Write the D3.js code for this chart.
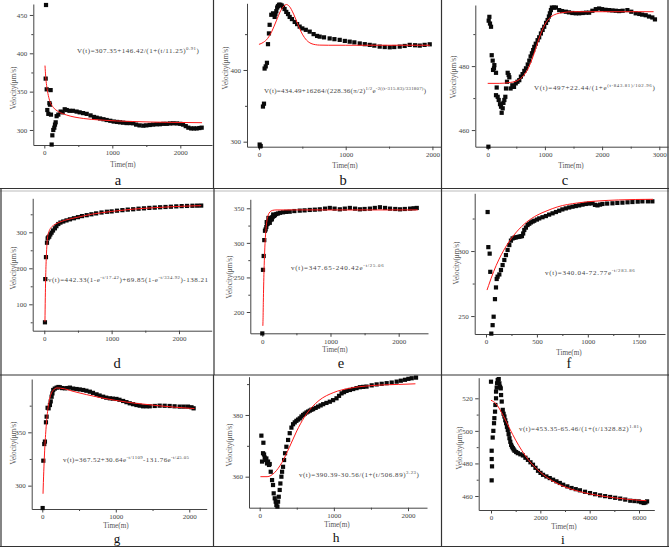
<!DOCTYPE html>
<html><head><meta charset="utf-8">
<script src="https://cdn.jsdelivr.net/npm/d3@7"></script>
<style>
html,body{margin:0;padding:0;background:#fff;}
svg{display:block;}
.tick text{font-family:"Liberation Serif","DejaVu Serif",serif;font-size:7px;fill:#444;}
.tick line{stroke:#444;}
.domain{stroke:#444;}
.ttl{font-family:"Liberation Serif","DejaVu Serif",serif;font-size:7.2px;fill:#555;}
.eq{font-family:"Liberation Serif","DejaVu Serif",serif;font-size:7px;fill:#444;}
.lab{font-family:"Liberation Serif","DejaVu Serif",serif;font-size:14.5px;fill:#111;}
</style>
</head><body>
<svg id="chart" width="669" height="548"></svg>
<script>
// ---------------- DATA ----------------
// panel a
const aPts = [[25,463],[20,367],[35,353],[93,352],[44,326],[59,321],[83,333],[75,335],[98,320],[108,281],[118,293],[132,300],[147,303],[157,307],[167,310],[181,318],[206,320],[240,324],[270,323],[300,327],[330,326],[370,325],[420,325],[475,324],[520,323],[570,322],[623,321],[680,319],[730,317],[770,316],[820,315],[870,314],[917,313],[970,312],[1020,311],[1070,310.5],[1113,310],[1160,309.5],[1210,309],[1260,309],[1309,308.7],[1350,307],[1400,306],[1456,305.6],[1500,306],[1550,306.5],[1600,307],[1652,307.4],[1700,307.5],[1750,308],[1800,308],[1850,308.5],[1897,308.7],[1950,308.5],[2000,308],[2040,307],[2080,305],[2118,303],[2160,302],[2200,302],[2240,302],[2280,302.5],[2314,303]];
const aFit = [[10,384],[20,370],[34,358],[59,345],[83,337],[132,329.5],[206,324],[328,319.5],[574,315],[819,313],[1309,311],[1800,310],[2320,309.5]];
// panel b
const bPts = [[8,296],[19,294],[14,293.5],[46,349],[58,353],[65,402],[78,405],[92,410],[104,436],[115,451],[123,463],[142,477],[162,479],[181,474],[190,478],[200,482],[210,487],[219,489],[231,491],[246,491],[262,490],[277,488],[295,485],[315,481],[335,478],[354,474],[380,471],[412,467],[440,464],[469,460.5],[500,458],[540,456],[585,453.5],[630,450],[670,447.5],[700,446.5],[750,445.5],[815,444],[870,443],[931,442],[990,440.5],[1046,439.5],[1100,438.5],[1162,437],[1220,436],[1277,435],[1330,434],[1392,432.6],[1450,432],[1508,431.6],[1560,432],[1623,432.6],[1680,433.5],[1738,435],[1800,434.5],[1854,434],[1910,435],[1969,435.8]];
const bFit = [[0,435.7],[50,438.5],[100,444],[150,454.3],[200,468.5],[250,482.6],[300,490.5],[316,491.3],[350,488.8],[400,477.8],[450,463],[500,450],[550,441.4],[600,437],[650,435.3],[700,434.7],[800,434.5],[1000,434.5],[1500,434.5],[1970,434.5]];
// panel c
const cPts = [[12,454.8],[17,494.2],[29,495.4],[40,493.3],[58,492.3],[70,483.4],[87,481.7],[93,478.8],[110,479.3],[116,480.3],[145,477.9],[157,473.3],[145,470.9],[174,470.4],[192,469.4],[215,468.1],[233,467.3],[244,465.4],[262,466.8],[275,468.5],[291,469.4],[308,470.4],[320,473],[337,475.1],[349,477.9],[366,477.2],[378,476.5],[400,473],[430,474],[460,473.5],[490,474.6],[520,475.1],[552,475.6],[580,476.7],[610,477.5],[640,478.5],[669,479.3],[700,480.5],[727,481.7],[750,483],[773,484],[795,485],[814,486],[840,487],[872,488.1],[900,489],[930,490.2],[960,491.3],[988,492.3],[1020,493.5],[1047,494.4],[1070,495.5],[1087,496.5],[1105,497.5],[1122,498.3],[1160,498.3],[1192,498.3],[1250,497.5],[1300,497.2],[1366,497],[1420,496.8],[1480,496.6],[1540,496.5],[1599,496.5],[1660,496.6],[1720,496.7],[1773,496.7],[1830,497.3],[1890,497.8],[1948,498],[2000,497.8],[2060,497.6],[2122,497.5],[2180,497.4],[2240,497.3],[2297,497.2],[2360,497.3],[2442,497.5],[2510,497],[2587,496.5],[2650,496.3],[2700,496.1],[2762,495.9],[2820,495.5],[2878,495.2],[2924,494.6]];
const cFit = [[0,474.6],[200,474.6],[400,474.9],[500,475.3],[600,476.5],[700,479],[800,483.4],[850,486.1],[900,488.8],[1000,493],[1100,495.3],[1200,496.3],[1300,496.7],[1500,497],[2000,497],[2900,497]];
// panel d
const dPts = [[10,50],[15,170],[25,231],[40,271],[50,283],[60,286],[74,288],[90,294],[109,299],[130,305],[158,311],[180,317],[208,323],[240,327],[282,330],[330,333],[381,336],[440,339],[500,342],[560,345],[630,347.5],[700,350],[770,352.5],[850,355],[930,357],[1000,358],[1080,360],[1160,361.5],[1240,363],[1320,364],[1400,365.5],[1480,366.5],[1560,367.7],[1640,368.5],[1720,369.5],[1800,370.3],[1880,371],[1960,372],[2040,372.7],[2120,373.2],[2200,373.7],[2270,374],[2330,374.2]];
const dFit = [[10,52],[15,118],[20,168],[30,231],[40,267],[50,288],[75,305],[100,313],[150,321],[200,326],[300,333],[400,338],[500,342],[700,350],[1000,358],[1300,364],[1600,368],[1900,371],[2100,372.7],[2330,374]];
// panel e
const ePts = [[0,169],[10,261],[20,281],[29,304],[39,317.5],[49,319.5],[59,323],[65,330],[70,327],[83,328],[90,336],[95,331],[108,334],[110,329],[120,333],[132,336],[140,334],[145,337],[157,338],[160,341],[170,339],[185,340],[206,341.7],[230,342.5],[260,343.5],[304,344.2],[350,344.8],[402,345.1],[470,346],[549,346.6],[620,347],[696,347.6],[770,348],[843,348.5],[920,349.5],[990,350.5],[1060,349.5],[1137,348.5],[1210,349.5],[1284,350.5],[1360,349.5],[1431,348.5],[1500,349],[1578,349.5],[1650,350.5],[1725,351.5],[1800,350.5],[1873,349.5],[1950,349],[2020,348.5],[2090,349],[2167,349.5],[2220,350],[2265,350.5]];
const eFit = [[8,180],[10,186],[15,214],[20,239],[25,259],[30,275],[40,299],[50,315],[60,326],[75,335.6],[100,343.2],[150,347],[200,347.6],[500,347.65],[1000,347.65],[2280,347.65]];
// panel f
const fPts = [[16,330],[23,303],[36,298],[42,284],[52,236.5],[65,243],[75,249.5],[88,263],[98,272],[105,278.5],[114,280.3],[131,282],[147,285.4],[163,289.2],[180,293.1],[196,296.9],[212,300.8],[229,304.6],[245,308],[261,309.7],[278,310.2],[294,310.5],[310,310.8],[327,311],[340,311.3],[353,311.5],[365,313.5],[376,316.2],[392,318],[408,320],[425,321],[441,322],[458,322.7],[474,323.3],[500,324.2],[523,325.1],[555,326],[588,326.9],[620,328],[654,329],[687,330],[719,331],[750,332],[784,332.8],[817,333.5],[850,334.1],[882,334.6],[915,335.1],[948,335.7],[980,336.2],[1013,336.5],[1046,336.7],[1070,335.5],[1095,335.1],[1120,335.7],[1144,336.2],[1190,336.5],[1242,336.7],[1290,337],[1340,337.2],[1390,337.5],[1438,337.7],[1490,338],[1536,338.2],[1590,338.2],[1634,338.2]];
const fFit = [[10,270],[25,273.4],[50,279],[100,288.9],[150,297.1],[200,304],[300,314.7],[400,322.3],[500,327.5],[600,331],[700,333.9],[900,337],[1100,338.5],[1300,339.3],[1640,339.8]];
// panel g
const gPts = [[5,279],[14,323.4],[27,339],[36,341.3],[50,359.4],[59,364.7],[72,373],[86,372.5],[104,375.6],[115,379],[127,383.4],[138,386.5],[149,389.7],[170,391],[195,391.9],[220,392.5],[240,392.2],[270,391.5],[308,391.3],[340,391.5],[376,391.9],[420,391],[466,390.6],[510,390.2],[557,389.7],[600,389],[647,388.1],[690,387],[738,385.6],[780,384.5],[828,383.4],[870,382.5],[919,381.9],[960,381.6],[1009,381.3],[1050,380.5],[1100,379.4],[1145,378.3],[1190,377.2],[1235,376.4],[1281,375.6],[1325,375],[1371,374.4],[1420,374.4],[1462,374.4],[1530,374.7],[1597,375],[1665,374.9],[1733,374.7],[1800,374.4],[1869,374.1],[1925,374.1],[1982,374.1],[2030,373.5],[2059,372.5]];
const gFit = [[10,292.4],[20,313],[30,329.7],[50,352.8],[75,371.2],[100,381.2],[150,389.6],[200,391.6],[300,390.8],[400,388.8],[600,385.4],[800,382.4],[1000,379.9],[1300,377],[1600,374.8],[2000,372.6],[2070,372.3]];
// panel h
const hPts = [[23,373.3],[32,364.9],[45,367.6],[50,371],[59,367.2],[68,366.2],[77,365.4],[90,365.9],[99,364.3],[113,364.9],[126,363.8],[135,364.1],[149,361.6],[167,358.9],[180,357.3],[189,354.6],[203,353],[216,351.9],[225,350.8],[239,350.3],[248,351.9],[257,353.5],[270,355.7],[279,357.8],[293,360],[302,361.6],[315,363.2],[329,365.4],[342,367.6],[360,369.7],[383,371.9],[405,374.1],[428,375.9],[450,377],[473,377.6],[495,378.1],[518,378.5],[541,378.9],[563,379.5],[586,380],[608,380.4],[631,380.8],[653,381.1],[676,381.4],[698,381.7],[721,381.9],[755,382.3],[788,382.7],[822,383.1],[856,383.5],[900,383.9],[946,384.3],[990,384.8],[1036,385.4],[1070,386.2],[1104,387],[1137,387.4],[1171,387.8],[1216,388.1],[1261,388.4],[1306,388.7],[1351,389],[1396,389.1],[1441,389.2],[1510,389.6],[1577,389.9],[1645,390.1],[1712,390.3],[1780,390.5],[1847,390.8],[1903,391.1],[1959,391.4],[2005,391.7],[2050,391.9],[2108,392.1]];
const hFit = [[10,360],[100,360],[200,361.3],[300,364.6],[400,369.5],[500,374.8],[600,379.2],[700,382.4],[800,384.7],[1000,387.3],[1200,388.6],[1500,389.5],[2000,390],[2100,390.1]];
// panel i
const iPts = [[0,530.2],[27,487.8],[27,482.7],[41,478.2],[27,469.6],[68,495.9],[95,500],[122,504.7],[136,507.8],[163,511.8],[177,515.9],[204,520],[204,524.1],[231,526.5],[245,529.2],[272,531.2],[313,531.8],[340,529.2],[367,527.1],[395,526.1],[408,522],[435,518],[476,512.9],[510,510.5],[544,508.8],[578,506.5],[612,504.7],[646,502.5],[680,500.6],[714,498],[748,495.5],[782,493.3],[816,491.4],[850,490.3],[884,489.4],[918,488.6],[952,487.8],[1020,487],[1088,486.3],[1190,485.6],[1293,484.9],[1395,483.5],[1497,482.2],[1600,480.7],[1701,479.2],[1803,477.3],[1905,475.5],[2007,474.2],[2109,473],[2245,472],[2381,471],[2517,470],[2653,469],[2789,468],[2925,466.9],[3095,465.9],[3265,464.9],[3435,464.2],[3605,463.5],[3810,462.6],[4014,461.8],[4218,461.1],[4422,460.4],[4626,459.9],[4830,459.4],[5034,458.9],[5238,458.4],[5442,457.8],[5646,457.1],[5816,456.9],[5986,456.7],[6088,456.2],[6190,455.7],[6260,456],[6327,456.7]];
const iFit = [[0,518.8],[200,516.7],[500,509.2],[750,501.6],[1000,494.3],[1500,482.5],[2000,474.6],[2500,469.2],[3000,465.6],[3500,463.1],[4000,461.3],[5000,458.9],[6000,457.4],[6300,457.1]];

// tick values
const aXTicks=[0,1000,2000], aXMinor=[500,1500], aYTicks=[300,350,400,450], aYMinor=[325,375,425];
const bXTicks=[0,1000,2000], bXMinor=[500,1500], bYTicks=[300,400], bYMinor=[350,450];
const cXTicks=[0,1000,2000,3000], cXMinor=[500,1500,2500], cYTicks=[460,480], cYMinor=[470,490];
const dXTicks=[0,1000,2000], dXMinor=[500,1500], dYTicks=[100,200,300], dYMinor=[50,150,250,350];
const eXTicks=[0,1000,2000], eXMinor=[500,1500], eYTicks=[200,250,300,350], eYMinor=[225,275,325];
const fXTicks=[0,500,1000,1500], fXMinor=[250,750,1250], fYTicks=[250,300], fYMinor=[275,325];
const gXTicks=[0,1000,2000], gXMinor=[500,1500], gYTicks=[300,350], gYMinor=[325,375];
const hXTicks=[0,1000,2000], hXMinor=[500,1500], hYTicks=[360,380], hYMinor=[370,390];
const iXTicks=[0,2000,4000,6000], iXMinor=[1000,3000,5000], iYTicks=[460,480,500,520], iYMinor=[470,490,510];

// axis limits
const aXDom=[-162,2466], aYDom=[280.4,464.3];
const bXDom=[-138,2099], bYDom=[293,493];
const cXDom=[-217,3152], cYDom=[454.8,499.1];
const dXDom=[-172,2486], dYDom=[26.7,394.4];
const eXDom=[-176,2430], eYDom=[169.2,363];
const fXDom=[-111,1758], fYDom=[236.2,344.4];
const gXDom=[-144,2237], gYDom=[278.1,400];
const hXDom=[-144,2256], hYDom=[349.95,392.4];
const iXDom=[-499,6620], iYDom=[451.4,532.65];

// texts
const panelLabels=["a","b","c","d","e","f","g","h","i"];
const xTitle="Time(m)", yTitle="Velocity(μm/s)";
const aEq=[["V(t)=307.35+146.42/(1+(t/11.25)",0],["0.91",1],[")",0]];
const bEq=[["V(t)=434.49+16264/(228.36(π/2)",0],["1/2",1],["e",0],["-2((t-315.83)/331807)",1],[")",0]];
const cEq=[["V(t)=497+22.44/(1+e",0],["(t-843.81)/102.96",1],[")",0]];
const dEq=[["v(t)=442.33(1-e",0],["-t/17.42",1],[")+69.85(1-e",0],["-t/334.92",1],[")-138.21",0]];
const eEq=[["v(t)=347.65-240.42e",0],["-t/25.06",1]];
const fEq=[["v(t)=340.04-72.77e",0],["-t/283.86",1]];
const gEq=[["v(t)=367.52+30.64e",0],["-t/1109",1],["-131.76e",0],["-t/45.05",1]];
const hEq=[["v(t)=390.39-30.56/(1+(t/506.89)",0],["3.23",1],[")",0]];
const iEq=[["v(t)=453.35-65.46/(1+(t/1328.82)",0],["1.81",1],[")",0]];

// ---------------- LAYOUT ----------------
const panels = [
 {box:[33.3,212,4,145], xd:aXDom, yd:aYDom, xt:aXTicks, xm:aXMinor, yt:aYTicks, ym:aYMinor, pts:aPts, fit:aFit, eq:aEq, eqp:[77,52.5,123], xtl:[123,166.5], ytl:[13.3,88], lab:[118,184.5,14.5]},
 {box:[247,441,3.3,146.7], xd:bXDom, yd:bYDom, xt:bXTicks, xm:bXMinor, yt:bYTicks, ym:bYMinor, pts:bPts, fit:bFit, eq:bEq, eqp:[264,92.5,163], xtl:[345,168], ytl:[225.5,68], lab:[343,184.5,14.5]},
 {box:[475.3,668,5,146.7], xd:cXDom, yd:cYDom, xt:cXTicks, xm:cXMinor, yt:cYTicks, ym:cYMinor, pts:cPts, fit:cFit, eq:cEq, eqp:[534,89.5,122], xtl:[571,167.5], ytl:[453.3,77], lab:[565,184.5,14.5]},
 {box:[32.7,211.7,198.3,330.7], xd:dXDom, yd:dYDom, xt:dXTicks, xm:dXMinor, yt:dYTicks, ym:dYMinor, pts:dPts, fit:dFit, eq:dEq, eqp:[48,281.5,161], xtl:null, ytl:[13.3,268], lab:[117,367.5,14.5]},
 {box:[250.3,428,199.3,333.3], xd:eXDom, yd:eYDom, xt:eXTicks, xm:eXMinor, yt:eYTicks, ym:eYMinor, pts:ePts, fit:eFit, eq:eEq, eqp:[291,269.5,94], xtl:[335,352], ytl:[229.7,277], lab:[341,368,14.5]},
 {box:[474.7,665,193.3,334], xd:fXDom, yd:fYDom, xt:fXTicks, xm:fXMinor, yt:fYTicks, ym:fYMinor, pts:fPts, fit:fFit, eq:fEq, eqp:[545,275,91], xtl:[569,354.5], ytl:[456,263], lab:[569,368,14.5]},
 {box:[31.7,206.7,379,509], xd:gXDom, yd:gYDom, xt:gXTicks, xm:gXMinor, yt:gYTicks, ym:gYMinor, pts:gPts, fit:gFit, eq:gEq, eqp:[63,461.5,127], xtl:[116,528], ytl:[13.3,443], lab:[117,543,13]},
 {box:[249,427,376.7,507.7], xd:hXDom, yd:hYDom, xt:hXTicks, xm:hXMinor, yt:hYTicks, ym:hYMinor, pts:hPts, fit:hFit, eq:hEq, eqp:[299,476.5,121], xtl:[337,527], ytl:[229.7,445], lab:[336,542,13.5]},
 {box:[478.7,654.3,377.7,510], xd:iXDom, yd:iYDom, xt:iXTicks, xm:iXMinor, yt:iYTicks, ym:iYMinor, pts:iPts, fit:iFit, eq:iEq, eqp:[519,430.5,124], xtl:[564,528.5], ytl:[459.3,448], lab:[563,543.5,13.5]}
];

const svg = d3.select("#chart");

// frame lines
const frame = svg.append("g").attr("stroke","#333").attr("stroke-width",1.2).attr("fill","none");
const hl = [[0,669,188.5],[0,669,375],[0,669,546.5]];
hl.forEach(([x1,x2,y])=>frame.append("line").attr("x1",x1).attr("x2",x2).attr("y1",y).attr("y2",y));
frame.append("line").attr("x1",0).attr("x2",669).attr("y1",191).attr("y2",191).attr("stroke","#bbb").attr("stroke-width",1);
const vl = [[213.5,0,188.5],[441.5,0,188.5],[668,0,188.5],[1,188.5,375],[214,188.5,375],[441.5,188.5,375],[668,188.5,375],[1,375,546.5],[213.5,375,546.5],[441.5,375,546.5],[668,375,546.5]];
vl.forEach(([x,y1,y2])=>frame.append("line").attr("x1",x).attr("x2",x).attr("y1",y1).attr("y2",y2));

panels.forEach((p,k)=>{
  const [l,r,t,b] = p.box;
  const x = d3.scaleLinear().domain(p.xd).range([l,r]);
  const y = d3.scaleLinear().domain(p.yd).range([b,t]);
  const g = svg.append("g");

  // axes (minor then major)
  g.append("g").attr("transform",`translate(0,${b})`)
    .call(d3.axisBottom(x).tickValues(p.xm).tickSize(2).tickSizeOuter(0).tickFormat(""))
    .call(s=>s.select(".domain").remove());
  g.append("g").attr("transform",`translate(${l},0)`)
    .call(d3.axisLeft(y).tickValues(p.ym).tickSize(2).tickSizeOuter(0).tickFormat(""))
    .call(s=>s.select(".domain").remove());
  g.append("g").attr("transform",`translate(0,${b})`)
    .call(d3.axisBottom(x).tickValues(p.xt).tickSize(3.5).tickSizeOuter(0).tickPadding(2).tickFormat(d3.format("d")));
  g.append("g").attr("transform",`translate(${l},0)`)
    .call(d3.axisLeft(y).tickValues(p.yt).tickSize(3.5).tickSizeOuter(0).tickPadding(2.5).tickFormat(d3.format("d")));
  g.selectAll("g").attr("font-family",null).attr("font-size",null);
  g.selectAll(".tick line").attr("stroke","#444");
  g.selectAll("path.domain").attr("stroke","#444");
  g.selectAll(".tick text").attr("fill","#444");

  // scatter
  g.append("g").selectAll("rect").data(p.pts).join("rect")
    .attr("x",d=>x(d[0])-2.1).attr("y",d=>y(d[1])-2.1)
    .attr("width",4.2).attr("height",4.2).attr("fill","#0a0a0a");

  // fit
  g.append("path").datum(p.fit)
    .attr("d", d3.line().x(d=>x(d[0])).y(d=>y(d[1])).curve(d3.curveMonotoneX))
    .attr("fill","none").attr("stroke","#ff1a1a").attr("stroke-width",1);

  // equation
  const [ex,ey,ew] = p.eqp;
  const te = g.append("text").attr("class","eq").attr("x",ex).attr("y",ey).attr("fill","#444");
  let sup=false;
  p.eq.forEach(([s,isSup])=>{
    const ts = te.append("tspan").text(s);
    if (isSup) { ts.style("font-size","4.8px"); if(!sup){ts.attr("dy",-3);} sup=true; }
    else { if(sup){ts.attr("dy",3);} sup=false; }
  });
  const w = te.node().getBBox().width;
  const n = p.eq.map(s=>s[0]).join("").length;
  te.attr("letter-spacing", ((ew - w)/n).toFixed(3));

  // titles
  if (p.xtl) g.append("text").attr("class","ttl").attr("fill","#555").attr("x",p.xtl[0]).attr("y",p.xtl[1]).attr("text-anchor","middle").text(xTitle);
  g.append("text").attr("class","ttl").attr("fill","#555").attr("text-anchor","middle")
    .attr("transform",`translate(${p.ytl[0]+2.5},${p.ytl[1]}) rotate(-90)`).text(yTitle);
  // panel label
  g.append("text").attr("class","lab").attr("fill","#111").style("font-size",p.lab[2]+"px")
    .attr("x",p.lab[0]).attr("y",p.lab[1]).attr("text-anchor","middle").text(panelLabels[k]);
});
</script>
</body></html>
